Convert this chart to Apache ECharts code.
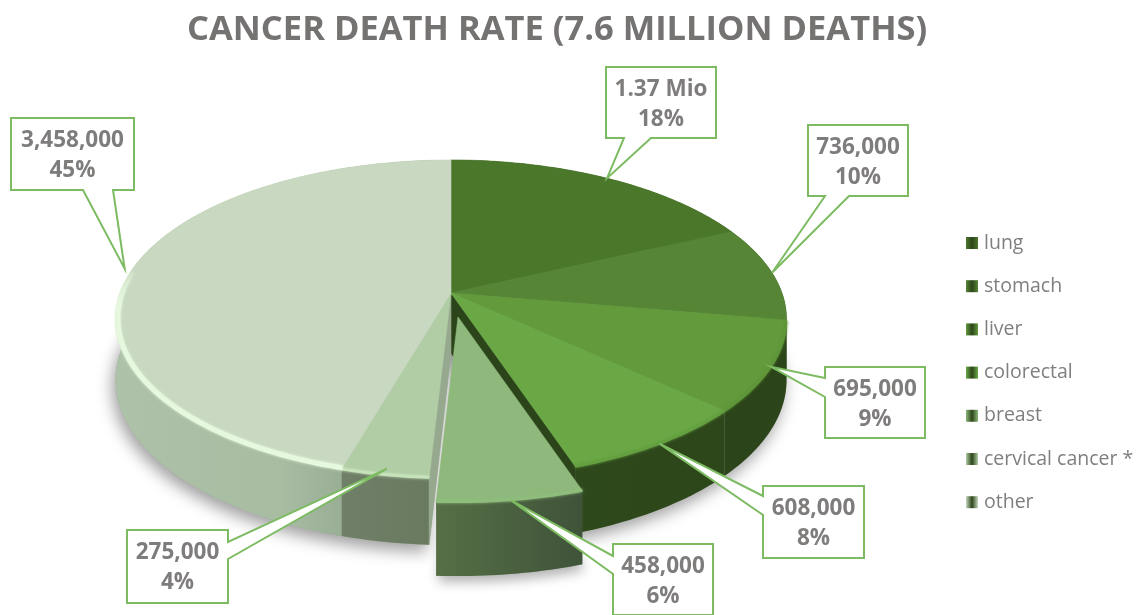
<!DOCTYPE html>
<html>
<head>
<meta charset="utf-8">
<title>Cancer death rate</title>
<style>
  html, body { margin: 0; padding: 0; background: #fff; }
  #main { width: 1144px; height: 615px; }
</style>
</head>
<body>
<div id="main"></div>
<script src="https://cdn.jsdelivr.net/npm/echarts@6/dist/echarts.min.js"></script>
<script>
var categories = ['lung', 'stomach', 'liver', 'colorectal', 'breast', 'cervical cancer *', 'other'];
var deaths = [1370000, 736000, 695000, 608000, 458000, 275000, 3458000];
var valueLabels = ['1.37 Mio', '736,000', '695,000', '608,000', '458,000', '275,000', '3,458,000'];
var percentLabels = ['18%', '10%', '9%', '8%', '6%', '4%', '45%'];

// slice colours: top face, rim highlight, side wall (gradient stops)
var topColors = ['#4b772b', '#568535', '#629a3c', '#6aa845', '#8eb87c', '#b0cda5', '#c9d8c0'];
var rimColors = ['#4b772b', '#568535', '#5f9639', '#64a040', '#8fbd7c', '#c6e2bb', '#e6f9df'];
var sideColors = [
  ['#2c4519', '#2c4519'], ['#2c4519', '#2c4519'], ['#2b4419', '#2b4419'], ['#2e491b', '#2d461a'],
  ['#566f46', '#3f5339'], ['#707f68', '#697a60'], ['#aec1a9', '#a7bca1', '#7e9480']
];
var explode = [0, 0, 0, 0, 1, 0, 0];

// callout boxes: pointer base sits on the given side of the box
var callouts = [
  { x: 606, y: 67, w: 110, h: 71, side: 'bottom', base: [624, 651] },
  { x: 808, y: 125, w: 100, h: 71, side: 'bottom', base: [825, 849] },
  { x: 825, y: 367, w: 100, h: 71, side: 'left', base: [378, 397] },
  { x: 763, y: 486, w: 101, h: 72, side: 'left', base: [496, 515] },
  { x: 613, y: 544, w: 100, h: 71, side: 'left', base: [556, 574] },
  { x: 127, y: 530, w: 101, h: 73, side: 'right', base: [542, 559], tipShift: [2, -6] },
  { x: 11, y: 118, w: 123, h: 72, side: 'bottom', base: [83, 113], tipShift: [-6, -3] }
];

var CX = 451, CY = 293, RX = 331, RY = 154.8, PERSP = 0.1635;
var EXPLODE_X = 7, EXPLODE_Y = 24, EXPLODE_DEPTH = 7;
var TEXT_GREY = '#7f7c7c', BOX_GREEN = '#7dbb62';

var total = deaths.reduce(function (a, b) { return a + b; }, 0);
var startAngles = [];
deaths.reduce(function (sum, v, i) {
  startAngles[i] = sum / total * 360;
  return sum + v;
}, 0);

// angle in degrees, clockwise from the back of the pie, to a point on the tilted disc
var project = function (deg, r, dx, dy) {
  var a = deg * Math.PI / 180;
  var u = Math.sin(a) * r, v = -Math.cos(a) * r;
  var s = 1 / (1 - PERSP * v);
  return [CX + (dx || 0) + RX * u * s, CY + (dy || 0) + RY * v * s];
};

var depthAt = function (deg) {
  return 60 - 7 * Math.cos(deg * Math.PI / 180);
};

var arc = function (from, to, r, dx, dy, extraDepth) {
  var pts = [];
  var n = Math.max(2, Math.ceil(Math.abs(to - from)));
  for (var i = 0; i <= n; i++) {
    var deg = from + (to - from) * i / n;
    var p = project(deg, r, dx, dy);
    if (extraDepth !== undefined) p[1] += depthAt(deg) + extraDepth;
    pts.push(p);
  }
  return pts;
};

var poly = function (points, fill, z2, extra) {
  var style = { fill: fill, stroke: typeof fill === 'string' ? fill : null, lineWidth: 0.6 };
  for (var k in extra) style[k] = extra[k];
  return { type: 'polygon', z2: z2, silent: true, shape: { points: points }, style: style };
};

var sideFill = function (stops, pts) {
  var xs = pts.map(function (p) { return p[0]; });
  return {
    type: 'linear', global: true,
    x: Math.min.apply(null, xs), y: 0, x2: Math.max.apply(null, xs), y2: 0,
    colorStops: stops.map(function (c, i) { return { offset: i / (stops.length - 1), color: c }; })
  };
};

var calloutShape = function (c, tip) {
  var right = c.x + c.w, bottom = c.y + c.h;
  var pts = [[c.x, c.y], [right, c.y]];
  if (c.side === 'right') pts.push([right, c.base[0]], tip, [right, c.base[1]]);
  pts.push([right, bottom]);
  if (c.side === 'bottom') pts.push([c.base[1], bottom], tip, [c.base[0], bottom]);
  pts.push([c.x, bottom]);
  if (c.side === 'left') pts.push([c.x, c.base[1]], tip, [c.x, c.base[0]]);
  return pts;
};

var renderSlice = function (i) {
  var from = startAngles[i];
  var to = i + 1 < deaths.length ? startAngles[i + 1] : 360;
  var dx = explode[i] ? EXPLODE_X : 0, dy = explode[i] ? EXPLODE_Y : 0;
  var extraDepth = explode[i] ? EXPLODE_DEPTH : 0;
  var base = explode[i] ? 5 : 0;
  var children = [];

  // soft shadow below the body, the gap of the exploded slice stays open
  if (i === 6) {
    var body = [[CX, CY + 60]].concat(arc(startAngles[5], 360 + startAngles[4], 1, 0, 0, 0));
    children.push(poly(body, '#9aa897', 0, {
      stroke: null, shadowBlur: 16, shadowColor: 'rgba(0,0,0,0.38)', shadowOffsetX: -3, shadowOffsetY: 7
    }));
  }
  if (explode[i]) {
    var low = arc(from, to, 1, dx, dy, extraDepth).concat([project(0, 0, dx, dy)]);
    children.push(poly(low, '#9aa897', 0, {
      stroke: null, shadowBlur: 12, shadowColor: 'rgba(0,0,0,0.3)', shadowOffsetX: 2, shadowOffsetY: 6
    }));
  }

  // outer wall
  var wall = arc(from, to, 1, dx, dy).concat(arc(to, from, 1, dx, dy, extraDepth));
  children.push(poly(wall, sideFill(sideColors[i], wall), base + 1));

  // cut faces seen beside the exploded slice
  if (i === 3) {
    var r3 = project(to, 1);
    children.push(poly([[CX, CY], r3, [r3[0], r3[1] + depthAt(to)], [CX, CY + 60]], '#2b4419', 2));
  }
  if (i === 5) {
    var r5 = project(from, 1);
    children.push(poly([[CX, CY], r5, [r5[0], r5[1] + depthAt(from)], [CX, CY + 60]], '#96a98f', 2));
  }

  // top face and bevel
  var top = [project(0, 0, dx, dy)].concat(arc(from, to, 1, dx, dy));
  children.push(poly(top, topColors[i], base + 3));
  if (from > 95) {
    var isOther = i === 6;
    var rimColor = isOther ? {
      type: 'linear', global: true, x: 0, y: 265, x2: 0, y2: 310,
      colorStops: [{ offset: 0, color: 'rgba(230,249,223,0)' }, { offset: 1, color: rimColors[i] }]
    } : rimColors[i];
    children.push({
      type: 'polyline', z2: base + 4, silent: true,
      shape: { points: arc(i === 2 ? 100 : from, isOther ? 278 : to, isOther ? 0.993 : 0.998, dx, dy) },
      style: { fill: null, stroke: rimColor, lineWidth: isOther ? 5 : 3, shadowBlur: 3, shadowColor: rimColors[i] }
    });
  }

  // callout
  var mid = project((from + to) / 2, 1, dx, dy);
  var c = callouts[i];
  var shift = c.tipShift || [0, 0];
  var tip = [mid[0] + shift[0], mid[1] + shift[1]];
  children.push(poly(calloutShape(c, tip), '#ffffff', 20, { stroke: BOX_GREEN, lineWidth: 2 }));
  children.push({
    type: 'text', z2: 21, silent: true,
    style: {
      x: c.x + c.w / 2, y: c.y + 23, text: valueLabels[i], fill: TEXT_GREY,
      font: 'bold 22.5px "Open Sans"', textAlign: 'center', textVerticalAlign: 'middle'
    }
  });
  children.push({
    type: 'text', z2: 21, silent: true,
    style: {
      x: c.x + c.w / 2, y: c.y + 53, text: percentLabels[i], fill: TEXT_GREY,
      font: 'bold 22.5px "Open Sans"', textAlign: 'center', textVerticalAlign: 'middle'
    }
  });
  return { type: 'group', children: children };
};

var legendIcon = function (color) {
  return {
    type: 'linear', x: 0, y: 0, x2: 1, y2: 0,
    colorStops: [
      { offset: 0, color: color }, { offset: 0.5, color: '#2c4519' }, { offset: 1, color: color }
    ]
  };
};

var myChart = echarts.init(document.getElementById('main'));
var option = {
  animation: false,
  title: {
    text: 'CANCER DEATH RATE (7.6 MILLION DEATHS)',
    left: 182,
    top: 8,
    textStyle: { fontFamily: 'Open Sans', fontSize: 34.5, fontWeight: 'bold', color: '#757272' }
  },
  legend: {
    orient: 'vertical',
    left: 961,
    top: 227,
    icon: 'rect',
    itemWidth: 12,
    itemHeight: 12,
    itemGap: 21.2,
    selectedMode: false,
    textStyle: { fontFamily: 'Open Sans', fontSize: 19.5, color: '#7f7f7f', padding: [0, 0, 0, 1], lineHeight: 22 },
    data: categories.map(function (name, i) {
      return { name: name, itemStyle: { color: legendIcon(topColors[i]) } };
    })
  },
  series: categories.map(function (name, i) {
    return {
      type: 'custom',
      name: name,
      coordinateSystem: 'none',
      silent: true,
      itemStyle: { color: topColors[i] },
      data: [{ name: name, value: deaths[i] }],
      renderItem: function () { return renderSlice(i); }
    };
  })
};
myChart.setOption(option);
</script>
</body>
</html>
